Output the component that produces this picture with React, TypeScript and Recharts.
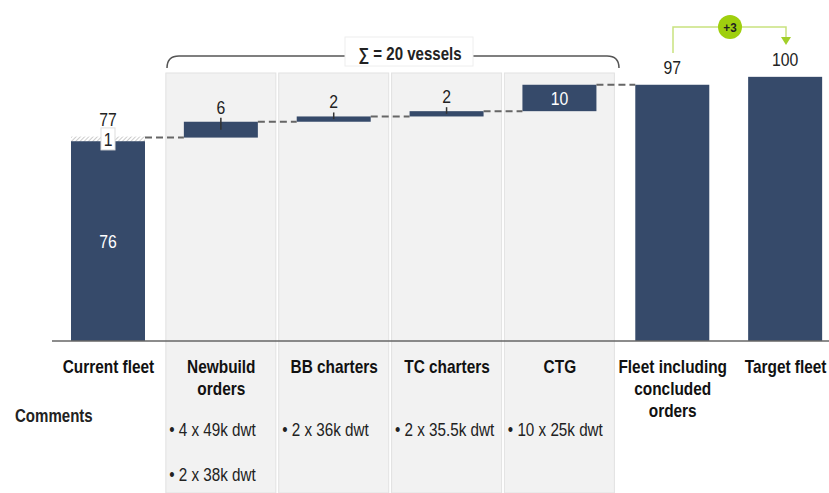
import { Bar, BarChart, XAxis, YAxis } from "recharts";

// fleet bridge: current fleet -> additions -> fleet incl. orders -> target
const categories = [
  "Current fleet",
  "Newbuild\norders",
  "BB charters",
  "TC charters",
  "CTG",
  "Fleet including\nconcluded\norders",
  "Target fleet",
];
const currentFleet = 76;
const currentPending = 1;
const additions = [6, 2, 2, 10];
const targetFleet = 100;
const comments = [
  [],
  ["4 x 49k dwt", "2 x 38k dwt"],
  ["2 x 36k dwt"],
  ["2 x 35.5k dwt"],
  ["10 x 25k dwt"],
  [],
  [],
];

const startTotal = currentFleet + currentPending;
const addedTotal = additions.reduce((a, b) => a + b, 0);
const fleetWithOrders = startTotal + addedTotal;

type Kind = "start" | "delta" | "total" | "target";

const rows: { name: string; kind: Kind; base: number; main: number; extra: number }[] = [];
rows.push({ name: categories[0], kind: "start", base: 0, main: currentFleet, extra: currentPending });
let running = startTotal;
additions.forEach((v, i) => {
  rows.push({ name: categories[i + 1], kind: "delta", base: running, main: v, extra: 0 });
  running += v;
});
rows.push({ name: categories[5], kind: "total", base: 0, main: fleetWithOrders, extra: 0 });
rows.push({ name: categories[6], kind: "target", base: 0, main: targetFleet, extra: 0 });

const CHART_W = 842;
const CHART_H = 493;
const MARGIN = { top: 24, right: 0, bottom: 0, left: 52 };
const BAR = 74;
const BAND = (CHART_W - MARGIN.left - MARGIN.right) / categories.length;
const GAP = BAND - BAR;

const NAVY = "#364a6a";
const FONT = "'Liberation Sans', Arial, sans-serif";

// Arial Narrow look-alike: squeeze regular Liberation Sans horizontally
function NText({ x, y, size = 19, sx = 0.83, anchor = "middle", bold = false, fill = "#222", children }: any) {
  return (
    <text
      transform={`translate(${x},${y}) scale(${sx},1)`}
      textAnchor={anchor}
      fontSize={size}
      fontWeight={bold ? "bold" : "normal"}
      fontFamily={FONT}
      fill={fill}
    >
      {children}
    </text>
  );
}

function Panel(props: any) {
  const { x, width, payload, index } = props;
  const kind = payload?.kind ?? rows[index]?.kind;
  if (kind !== "delta") return <g />;
  const cx = x + width / 2;
  return <rect x={cx - 55} y={73} width={110} height={CHART_H - 73} fill="#f2f2f2" stroke="#e2e2e2" />;
}

function MainBar(props: any) {
  const { x, y, width, height, payload } = props;
  const kind: Kind = payload.kind;
  const cx = x + width / 2;
  const parts: any[] = [<rect key="r" x={x} y={y} width={width} height={height} fill={NAVY} />];
  if (kind === "delta" || kind === "total") {
    const ly = kind === "delta" ? y + height : y;
    parts.push(
      <line key="c" x1={x - GAP} x2={x} y1={ly} y2={ly} stroke="#666" strokeWidth={2} strokeDasharray="7 4" />
    );
  }
  if (kind === "start" || (kind === "delta" && height > 20)) {
    parts.push(
      <NText key="t" x={cx} y={y + height / 2 + 7} fill="#fff">
        {payload.main}
      </NText>
    );
  } else if (kind === "delta") {
    parts.push(
      <line key="k" x1={cx} x2={cx} y1={y - 4} y2={y + Math.min(8, height / 2)} stroke="#333" strokeWidth={1.5} />,
      <NText key="t" x={cx} y={y - 8}>
        {payload.main}
      </NText>
    );
  } else {
    parts.push(
      <NText key="t" x={cx} y={y - 11}>
        {payload.main}
      </NText>
    );
  }
  return <g>{parts}</g>;
}

function PendingBar(props: any) {
  const { x, y, width, height, payload } = props;
  if (!payload.extra) return <g />;
  const cx = x + width / 2;
  const total = payload.base + payload.main + payload.extra;
  return (
    <g>
      <defs>
        <pattern id="hatch" width={3} height={3} patternUnits="userSpaceOnUse" patternTransform="rotate(45)">
          <rect width={3} height={3} fill="#fff" />
          <line x1={0} y1={0} x2={0} y2={3} stroke="#aaa" strokeWidth={1.2} />
        </pattern>
      </defs>
      <rect x={x} y={y - 1} width={width} height={height + 2} fill="url(#hatch)" />
      <rect x={cx - 7} y={y + height / 2 - 11} width={14} height={22} fill="#fff" stroke="#ddd" />
      <NText x={cx} y={y + height / 2 + 7}>
        {payload.extra}
      </NText>
      <NText x={cx} y={y - 12}>
        {total}
      </NText>
    </g>
  );
}

function CategoryTick(props: any) {
  const { x, y, payload } = props;
  const i = categories.indexOf(payload.value);
  const lines = categories[i].split("\n");
  const notes = comments[i] || [];
  return (
    <g>
      {lines.map((l, k) => (
        <NText key={k} x={x} y={y + 32 + k * 22} size={17.5} sx={0.88} bold fill="#111">
          {l}
        </NText>
      ))}
      {notes.map((n, k) => (
        <NText key={"n" + k} x={x - 52} y={y + 95 + k * 45} size={17.5} sx={0.87} anchor="start">
          {"\u2022 " + n}
        </NText>
      ))}
    </g>
  );
}

export default function App() {
  const gain = targetFleet - fleetWithOrders;
  return (
    <div style={{ position: "absolute", left: 0, top: 0, width: 829, height: 493, overflow: "hidden", background: "#fff" }}>
      <BarChart width={CHART_W} height={CHART_H} data={rows} margin={MARGIN} barSize={BAR}>
        <YAxis hide domain={[0, 120]} />
        <Bar dataKey="base" stackId="w" fill="transparent" background={<Panel />} isAnimationActive={false} />
        <Bar dataKey="main" stackId="w" shape={<MainBar />} isAnimationActive={false} />
        <Bar dataKey="extra" stackId="w" shape={<PendingBar />} isAnimationActive={false} />
        <XAxis
          dataKey="name"
          interval={0}
          height={152}
          tickLine={false}
          tickSize={0}
          tickMargin={0}
          axisLine={{ stroke: "#666", strokeWidth: 1.5 }}
          tick={<CategoryTick />}
        />
      </BarChart>
      <svg width={829} height={493} style={{ position: "absolute", left: 0, top: 0, pointerEvents: "none" }}>
        <NText x={15} y={422} size={17.5} sx={0.86} anchor="start" bold fill="#222">
          Comments
        </NText>
        <path d="M167 68 Q167 56 179 56 H607 Q619 56 619 68" fill="none" stroke="#555" strokeWidth={1.5} />
        <rect x={345} y={37} width={128} height={29} fill="#fff" stroke="#eee" />
        <NText x={410} y={60} size={17.5} sx={0.86} bold>
          {"\u2211 = " + addedTotal + " vessels"}
        </NText>
        <path d="M673 53 V27 H786 V38" fill="none" stroke="#c9e27f" strokeWidth={1.5} />
        <path d="M781 37 L791 37 L786 45 Z" fill="#a2cf2a" />
        <circle cx={730} cy={27} r={12} fill="#9fcf0e" />
        <NText x={730} y={32} size={13} sx={0.9} bold>
          {(gain >= 0 ? "+" : "") + gain}
        </NText>
      </svg>
    </div>
  );
}
